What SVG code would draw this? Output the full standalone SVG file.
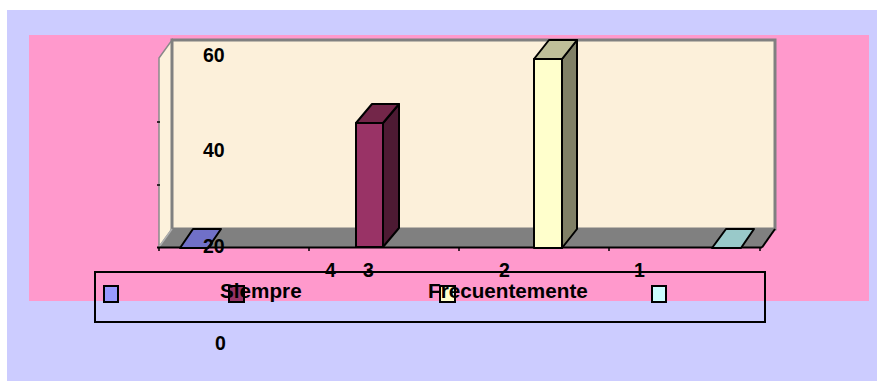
<svg xmlns="http://www.w3.org/2000/svg" width="877" height="383" viewBox="0 0 877 383">
<style>
.t{font-family:"Liberation Sans",Arial,sans-serif;font-weight:bold;fill:#000}
.num{font-size:19.5px}
.leg{font-size:20.7px}
.edge{stroke:#000;stroke-width:2;stroke-linejoin:round}
.tick{stroke:#000;stroke-width:1.5}
.sq{stroke:#000;stroke-width:2}
</style>
<rect x="0" y="0" width="877" height="383" fill="#ffffff"/>
<rect id="outer" x="7" y="10" width="870" height="371" fill="#ccccff"/>
<rect id="plotarea" x="29" y="35" width="840" height="266" fill="#ff99cc"/>
<g id="walls">
  <polygon points="159,58 172,40 172,229 159,247" fill="#fdf2dc" stroke="#8a8a8a" stroke-width="1.5"/>
  <rect x="172" y="40" width="603" height="189" fill="#fcf0da" stroke="#808080" stroke-width="3"/>
  <polygon points="159,247 172,229 775,229 762,247" fill="#808080"/>
  <line x1="159" y1="247" x2="172" y2="229" stroke="#b0b0b0" stroke-width="1.5"/>
  <line x1="157" y1="247.5" x2="762" y2="247.5" stroke="#000" stroke-width="2"/>
  <line x1="762" y1="247.5" x2="775" y2="229" stroke="#000" stroke-width="2"/>
</g>
<g id="ticks">
  <line class="tick" x1="159" y1="247" x2="159" y2="251"/>
  <line class="tick" x1="309" y1="247" x2="309" y2="251"/>
  <line class="tick" x1="459" y1="247" x2="459" y2="251"/>
  <line class="tick" x1="609" y1="247" x2="609" y2="251"/>
  <line class="tick" x1="760" y1="247" x2="760" y2="251"/>
  <line class="tick" x1="157" y1="122" x2="160" y2="122"/>
  <line class="tick" x1="157" y1="185" x2="160" y2="185"/>
</g>
<g id="bar-4">
  <polygon class="edge" points="180,248 193,229 221,229 208,248" fill="#7070c8"/>
</g>
<g id="bar-3">
  <rect class="edge" x="356" y="123" width="27" height="124" fill="#993366"/>
  <polygon class="edge" points="383,123 399,104 399,228 383,247" fill="#4d1a33"/>
  <polygon class="edge" points="356,123 372,104 399,104 383,123" fill="#732649"/>
</g>
<g id="bar-2">
  <rect class="edge" x="534" y="59" width="28" height="189" fill="#ffffcc"/>
  <polygon class="edge" points="562,59 577,40 577,229 562,248" fill="#808066"/>
  <polygon class="edge" points="534,59 549,40 577,40 562,59" fill="#bfbf99"/>
</g>
<g id="bar-1">
  <polygon class="edge" points="712,248 726,229 754,229 741,248" fill="#99c9c9"/>
</g>
<g id="axis-labels">
  <text class="t num" x="203" y="62">60</text>
  <text class="t num" x="203" y="157">40</text>
  <text class="t num" x="203" y="253">20</text>
  <text class="t num" x="215" y="350">0</text>
  <text class="t num" x="325" y="277">4</text>
  <text class="t num" x="363" y="277">3</text>
  <text class="t num" x="499" y="277">2</text>
  <text class="t num" x="634" y="277">1</text>
</g>
<g id="legend">
  <rect x="95" y="272" width="670" height="50" fill="none" stroke="#000" stroke-width="2"/>
  <rect class="sq" x="104" y="286" width="14" height="16" fill="#9999ff"/>
  <rect class="sq" x="229" y="286" width="15" height="16" fill="#993366"/>
  <rect class="sq" x="440" y="286" width="15" height="16" fill="#ffffcc"/>
  <rect class="sq" x="652" y="286" width="14" height="16" fill="#ccffff"/>
  <text class="t leg" x="220" y="298">Siempre</text>
  <text class="t leg" x="428" y="298">Frecuentemente</text>
</g>
</svg>
